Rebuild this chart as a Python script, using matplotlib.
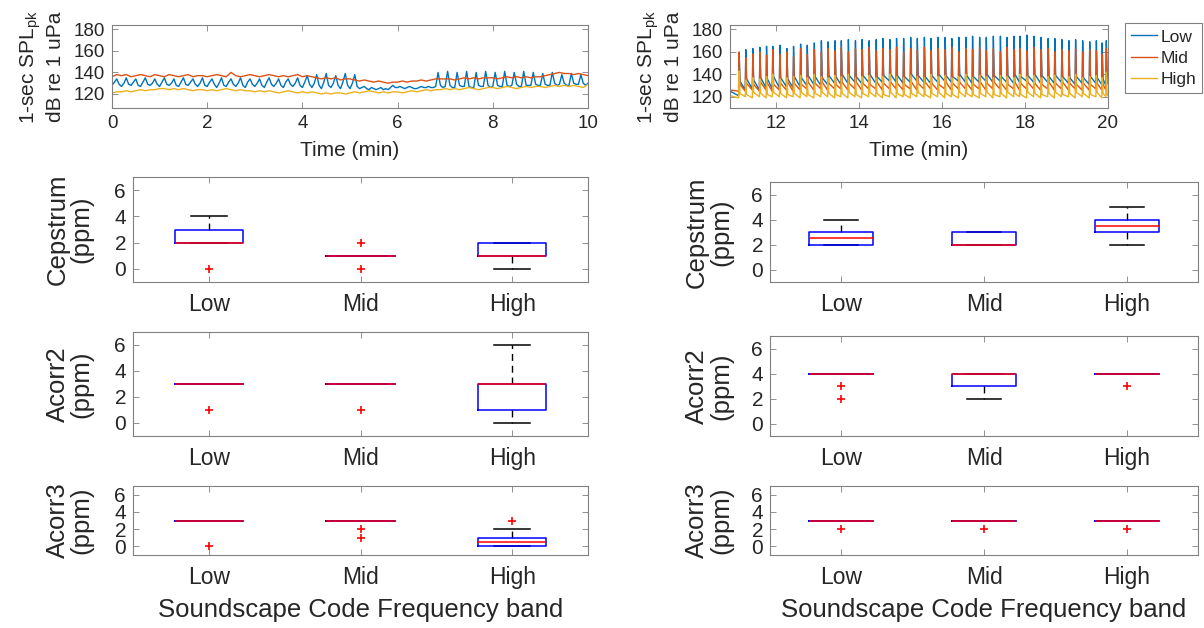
import matplotlib
matplotlib.use("Agg")
import matplotlib.pyplot as plt
import numpy as np

plt.rcParams["font.family"] = ["Liberation Sans", "DejaVu Sans"]
plt.rcParams["mathtext.fontset"] = "custom"
plt.rcParams["mathtext.rm"] = "Liberation Sans"

bands = ["Low", "Mid", "High"]
line_colors = ["#0072BD", "#D95319", "#EDB120"]

# ---- recording A: 0-10 min ----
# Low band sampled every 3 s, Mid/High every 6 s
spl_a_low = [
    128, 131, 134, 129, 127, 130, 135, 129, 128, 131, 134, 128, 127, 131, 135, 129, 128, 130, 134, 129,
    127, 131, 135, 129, 128, 130, 134, 128, 127, 131, 135, 129, 128, 131, 134, 129, 127, 130, 135, 128,
    127, 131, 134, 129, 126, 130, 135, 128, 127, 131, 134, 129, 127, 130, 135, 128, 126, 131, 134, 129,
    127, 130, 134, 128, 126, 131, 135, 129, 127, 130, 134, 128, 126, 131, 134, 129, 127, 130, 135, 128,
    126, 131, 137, 129, 126, 130, 138, 128, 125, 131, 139, 128, 126, 130, 137, 128, 125, 131, 139, 128,
    125, 130, 138, 127, 125, 126, 127, 125, 124, 126, 125, 124, 125, 126, 124, 125, 124, 126, 128, 126,
    126, 127, 126, 125, 126, 127, 126, 125, 125, 126, 127, 126, 126, 127, 126, 126, 127, 140, 128, 126,
    127, 141, 128, 126, 126, 140, 128, 127, 127, 141, 127, 126, 126, 140, 128, 127, 127, 141, 128, 126,
    127, 140, 128, 127, 127, 141, 128, 127, 128, 140, 129, 127, 127, 141, 128, 128, 128, 140, 129, 128,
    128, 139, 129, 128, 128, 140, 130, 128, 129, 138, 130, 128, 128, 139, 130, 129, 129, 138, 130, 128,
    130,
]
spl_a_mid = [
    136, 138, 137, 138, 136, 137, 138, 137, 136, 138,
    137, 136, 138, 137, 136, 137, 138, 136, 137, 137,
    136, 137, 138, 137, 136, 140, 137, 136, 137, 138,
    137, 136, 137, 138, 137, 136, 137, 136, 137, 138,
    136, 137, 136, 135, 134, 135, 134, 135, 133, 134,
    134, 133, 132, 133, 132, 131, 132, 131, 130, 131,
    131, 132, 131, 132, 132, 133, 132, 133, 134, 134,
    134, 134, 133, 134, 135, 134, 135, 134, 135, 135,
    135, 134, 135, 136, 135, 136, 135, 136, 135, 136,
    136, 137, 138, 139, 140, 139, 139, 138, 139, 138,
    137,
]
spl_a_high = [
    121, 122, 122, 123, 122, 123, 124, 123, 124, 124,
    125, 125, 124, 125, 124, 125, 124, 123, 124, 124,
    123, 124, 123, 124, 125, 124, 123, 124, 123, 123,
    122, 123, 122, 123, 122, 121, 122, 123, 122, 121,
    122, 121, 122, 121, 120, 121, 120, 121, 121, 120,
    121, 122, 121, 122, 123, 122, 121, 122, 121, 122,
    122, 121, 122, 123, 122, 123, 124, 123, 124, 124,
    125, 124, 125, 124, 125, 126, 125, 124, 125, 126,
    126, 125, 126, 127, 126, 125, 126, 127, 126, 127,
    127, 126, 127, 128, 127, 128, 127, 128, 127, 126,
    129,
]

# ---- recording B: 11-20 min, impulsive events ----
pulse_t = [
    11.12, 11.28, 11.45, 11.62, 11.78, 11.93, 12.10, 12.27, 12.43, 12.60,
    12.76, 12.93, 13.10, 13.26, 13.43, 13.58, 13.75, 13.92, 14.08, 14.25,
    14.42, 14.58, 14.75, 14.91, 15.08, 15.25, 15.41, 15.58, 15.74, 15.91,
    16.08, 16.24, 16.41, 16.58, 16.74, 16.91, 17.07, 17.24, 17.41, 17.57,
    17.74, 17.88, 18.05, 18.22, 18.39, 18.56, 18.72, 18.89, 19.06, 19.22,
    19.39, 19.56, 19.72, 19.86, 19.96,
]
peak_low = [
    158, 162, 163, 164, 165, 165, 166, 163, 165, 167,
    166, 168, 170, 169, 170, 170, 171, 170, 171, 170,
    171, 172, 171, 172, 172, 173, 172, 173, 172, 173,
    173, 172, 173, 173, 174, 173, 173, 174, 174, 173,
    174, 174, 175, 174, 173, 172, 172, 171, 170, 171,
    170, 169, 170, 168, 170,
]
peak_mid = [
    160, 155, 158, 160, 157, 162, 158, 160, 156, 163,
    158, 162, 160, 163, 161, 164, 160, 163, 162, 164,
    161, 163, 162, 164, 160, 163, 162, 164, 161, 163,
    162, 164, 160, 163, 162, 164, 161, 163, 160, 164,
    162, 163, 161, 164, 162, 163, 160, 162, 161, 163,
    160, 162, 161, 158, 163,
]
peak_high = [
    143, 135, 137, 136, 138, 140, 136, 137, 138, 139,
    137, 140, 138, 137, 139, 138, 140, 137, 138, 139,
    137, 138, 140, 138, 137, 139, 138, 137, 140, 138,
    139, 137, 138, 140, 137, 139, 138, 137, 139, 138,
    137, 140, 138, 139, 137, 138, 139, 137, 138, 140,
    137, 138, 139, 137, 142,
]
# level just before each pulse
floor_low = [
    121, 126, 127, 126, 128, 127, 128, 129, 128, 129,
    130, 131, 130, 131, 132, 131, 132, 133, 132, 133,
    132, 133, 134, 133, 132, 133, 134, 133, 132, 133,
    134, 133, 134, 133, 132, 133, 134, 133, 134, 133,
    132, 133, 134, 133, 132, 133, 132, 133, 132, 131,
    132, 131, 132, 131, 130,
]
floor_mid = [
    125, 125, 126, 125, 126, 125, 126, 126, 125, 126,
    127, 126, 127, 126, 127, 127, 126, 127, 126, 127,
    127, 126, 127, 127, 126, 127, 126, 127, 127, 126,
    127, 126, 127, 127, 126, 127, 126, 127, 127, 126,
    127, 126, 127, 127, 126, 127, 126, 127, 126, 127,
    126, 126, 127, 126, 126,
]
floor_high = [
    119, 120, 119, 120, 119, 120, 120, 119, 120, 119,
    120, 119, 120, 120, 119, 120, 119, 120, 119, 120,
    120, 119, 120, 119, 120, 119, 120, 120, 119, 120,
    119, 120, 119, 120, 120, 119, 120, 119, 120, 119,
    120, 120, 119, 120, 119, 120, 119, 120, 120, 119,
    120, 119, 120, 119, 120,
]
# level just after each pulse
tail_low = [
    134, 136, 135, 137, 136, 138, 137, 136, 138, 137,
    139, 138, 137, 139, 138, 140, 139, 138, 139, 140,
    138, 139, 140, 139, 138, 140, 139, 138, 139, 140,
    139, 138, 140, 139, 138, 139, 140, 139, 138, 139,
    140, 138, 139, 140, 139, 138, 139, 138, 137, 138,
    137, 138, 137, 136, 137,
]
tail_mid = [
    131, 132, 131, 133, 132, 131, 132, 133, 132, 131,
    133, 132, 133, 132, 131, 133, 132, 133, 132, 131,
    133, 132, 133, 132, 131, 133, 132, 133, 132, 131,
    133, 132, 133, 132, 131, 133, 132, 133, 132, 131,
    133, 132, 133, 132, 131, 133, 132, 133, 132, 131,
    132, 131, 132, 131, 132,
]
tail_high = [
    123, 122, 124, 123, 122, 124, 123, 122, 123, 124,
    122, 123, 124, 123, 122, 123, 124, 122, 123, 124,
    123, 122, 124, 123, 122, 123, 124, 122, 123, 124,
    123, 122, 124, 123, 122, 123, 124, 122, 123, 124,
    123, 122, 124, 123, 122, 123, 124, 122, 123, 124,
    123, 122, 124, 123, 122,
]
start_b = [125, 126, 121]
end_b = [137, 132, 121]

# ---- detections per band (ppm): (q1, median, q3, whisker low, whisker high, outliers) ----
cep_a = [(2, 2, 3, 2, 4, [0]), (1, 1, 1, 1, 1, [0, 2]), (1, 1, 2, 0, 2, [])]
acorr2_a = [(3, 3, 3, 3, 3, [1]), (3, 3, 3, 3, 3, [1]), (1, 3, 3, 0, 6, [])]
acorr3_a = [(3, 3, 3, 3, 3, [0]), (3, 3, 3, 3, 3, [1, 2]), (0, 0.5, 1, 0, 2, [3])]
cep_b = [(2, 2.5, 3, 2, 4, []), (2, 2, 3, 2, 3, []), (3, 3.5, 4, 2, 5, [])]
acorr2_b = [(4, 4, 4, 4, 4, [2, 3]), (3, 4, 4, 2, 4, []), (4, 4, 4, 4, 4, [3])]
acorr3_b = [(3, 3, 3, 3, 3, [2]), (3, 3, 3, 3, 3, [2]), (3, 3, 3, 3, 3, [2])]

FRAME = "#808080"
TEXT = "#262626"
W, H = 1204, 628

fig = plt.figure(figsize=(W / 100, H / 100), dpi=100)


def axes_px(x0, y0, x1, y1):
    return fig.add_axes([x0 / W, 1 - y1 / H, (x1 - x0) / W, (y1 - y0) / H])


def style(ax, size):
    for sp in ax.spines.values():
        sp.set_color(FRAME)
        sp.set_linewidth(0.8)
    ax.tick_params(direction="in", top=True, right=True, length=4, width=0.6,
                   color=FRAME, labelcolor=TEXT, labelsize=size, pad=5)


def pulse_trace(v0, floor, peak, tail, v1):
    t, v = [10.9], [v0]
    for ts, f, p, a in zip(pulse_t, floor, peak, tail):
        t += [ts - 0.012, ts, ts + 0.02]
        v += [f, p, a]
    t.append(20.0)
    v.append(v1)
    return t, v


def draw_boxes(ax, rows, ylab, xlab=None):
    stats = [dict(q1=r[0], med=r[1], q3=r[2], whislo=r[3], whishi=r[4], fliers=r[5]) for r in rows]
    # caps/whiskers sit underneath the box so collapsed whiskers stay hidden
    ax.bxp(stats, positions=[1, 2, 3], widths=0.45, capwidths=0.24, manage_ticks=False,
           boxprops=dict(color="#0000FF", lw=1.1, zorder=2.2),
           medianprops=dict(color="#FF0000", lw=1.1, zorder=2.4),
           whiskerprops=dict(color="black", lw=1.0, linestyle=(0, (5, 3.5)), zorder=2.0),
           capprops=dict(color="black", lw=1.1, zorder=2.0),
           flierprops=dict(marker="+", markeredgecolor="#FF0000", markersize=6,
                           markeredgewidth=1.2, linestyle="none", zorder=2.5))
    ax.set_xlim(0.5, 3.5)
    ax.set_ylim(-1, 7)
    ax.set_xticks([1, 2, 3])
    ax.set_xticklabels(bands)
    ax.set_yticks([0, 2, 4, 6])
    style(ax, 15)
    ax.tick_params(axis="x", pad=8, labelsize=16.5)
    ax.set_ylabel(ylab, fontsize=18.5, color=TEXT, linespacing=1.0)
    ax.yaxis.set_label_coords(-0.086, 0.5)
    if xlab:
        ax.set_xlabel(xlab, fontsize=18.5, color=TEXT)
        ax.xaxis.set_label_coords(0.5, -0.62)


spl_label = "1-sec SPL$_{\\rm pk}$\ndB re 1 uPa"

# time series, recording A
ax = axes_px(112, 25, 588, 108)
t_low = np.arange(len(spl_a_low)) * 0.05
t_mid = np.arange(len(spl_a_mid)) * 0.1
ax.plot(t_low, spl_a_low, color=line_colors[0], lw=1.0)
ax.plot(t_mid, spl_a_mid, color=line_colors[1], lw=1.0)
ax.plot(t_mid, spl_a_high, color=line_colors[2], lw=1.0)
ax.set_xlim(0, 10)
ax.set_ylim(107, 184)
ax.set_xticks([0, 2, 4, 6, 8, 10])
ax.set_yticks([120, 140, 160, 180])
style(ax, 13.5)
ax.set_xlabel("Time (min)", fontsize=15, color=TEXT)
ax.xaxis.set_label_coords(0.5, -0.40)
ax.set_ylabel(spl_label, fontsize=15, color=TEXT)
ax.yaxis.set_label_coords(-0.099, 0.5)

# time series, recording B
ax = axes_px(730, 25, 1108, 108)
for i, (fl, pk, tl) in enumerate([(floor_low, peak_low, tail_low),
                                  (floor_mid, peak_mid, tail_mid),
                                  (floor_high, peak_high, tail_high)]):
    tt, vv = pulse_trace(start_b[i], fl, pk, tl, end_b[i])
    ax.plot(tt, vv, color=line_colors[i], lw=1.0, label=bands[i])
ax.set_xlim(10.9, 20)
ax.set_ylim(110, 184)
ax.set_xticks([12, 14, 16, 18, 20])
ax.set_yticks([120, 140, 160, 180])
style(ax, 13.5)
ax.set_xlabel("Time (min)", fontsize=15, color=TEXT)
ax.xaxis.set_label_coords(0.5, -0.40)
ax.set_ylabel(spl_label, fontsize=15, color=TEXT)
ax.yaxis.set_label_coords(-0.124, 0.5)
leg = ax.legend(loc="upper left", bbox_to_anchor=(1.045, 1.02), borderaxespad=0,
                fontsize=12.5, handlelength=1.5, handletextpad=0.2, borderpad=0.35,
                labelspacing=0.35, fancybox=False, framealpha=1)
leg.get_frame().set_edgecolor(FRAME)
leg.get_frame().set_linewidth(0.8)
for txt in leg.get_texts():
    txt.set_color(TEXT)

xl = "Soundscape Code Frequency band"
draw_boxes(axes_px(133, 177, 588, 282), cep_a, "Cepstrum\n(ppm)")
draw_boxes(axes_px(133, 332, 588, 436), acorr2_a, "Acorr2\n(ppm)")
draw_boxes(axes_px(133, 486, 588, 555), acorr3_a, "Acorr3\n(ppm)", xl)
draw_boxes(axes_px(770, 182, 1198, 282), cep_b, "Cepstrum\n(ppm)")
draw_boxes(axes_px(770, 336, 1198, 436), acorr2_b, "Acorr2\n(ppm)")
draw_boxes(axes_px(770, 486, 1198, 555), acorr3_b, "Acorr3\n(ppm)", xl)

fig.savefig("out.png", dpi=100)
